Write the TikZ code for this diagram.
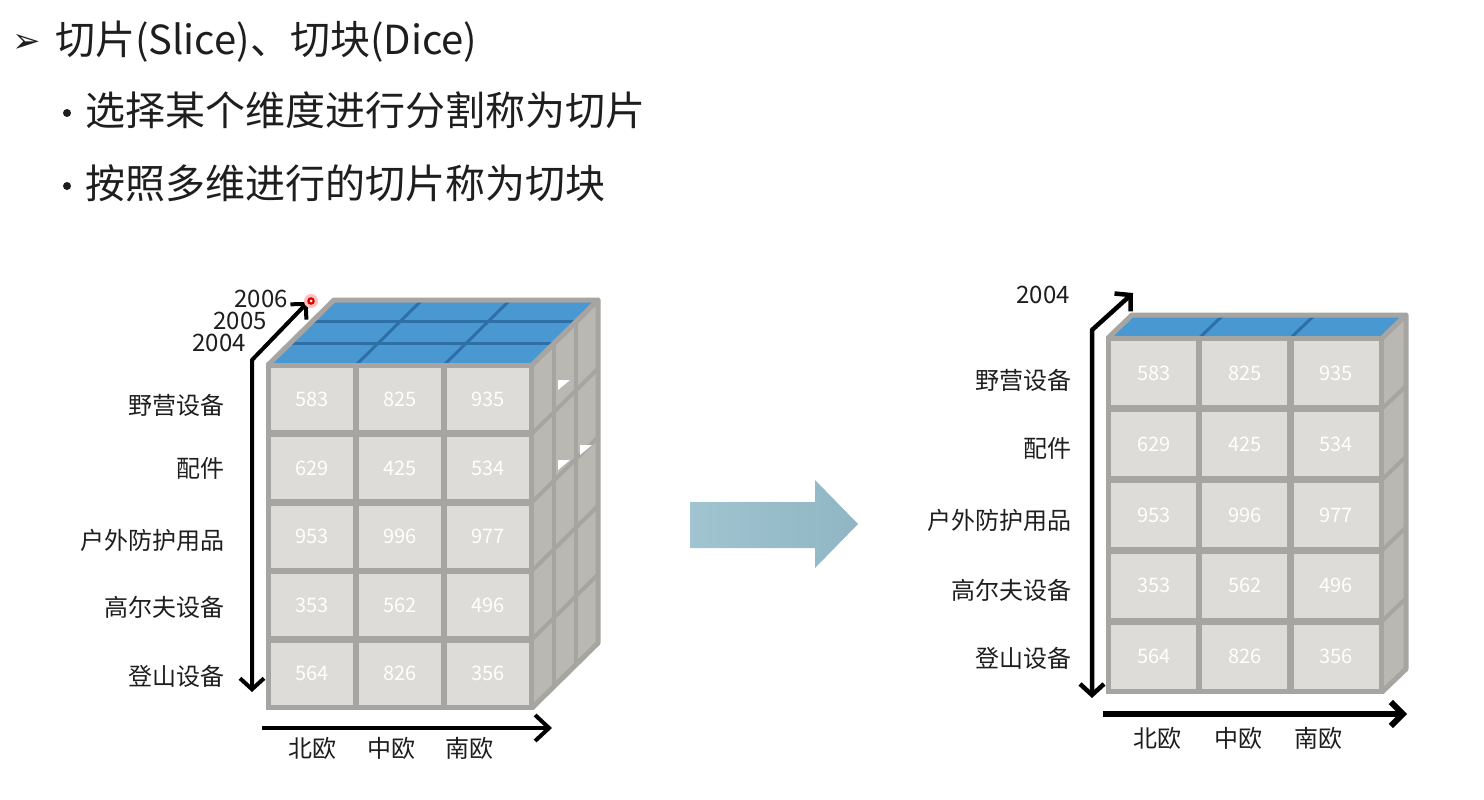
\documentclass[tikz,border=0pt]{standalone}
\usepackage{fontspec}
\setmainfont{Noto Sans CJK SC}
\newfontfamily\dejavu{DejaVu Sans}
\usetikzlibrary{arrows.meta}
\definecolor{framec}{HTML}{A6A5A1}
\definecolor{cellc}{HTML}{DDDCD9}
\definecolor{sidec}{HTML}{BAB8B3}
\definecolor{topc}{HTML}{4A98D2}
\definecolor{toplinec}{HTML}{2E6FA6}
\definecolor{arrowl}{HTML}{A0C4D0}
\definecolor{arrowr}{HTML}{90B6C4}
\definecolor{txt}{HTML}{1E1E1E}
\begin{document}
\begin{tikzpicture}[x=1pt,y=-1pt,
  cellL/.style={fill=cellc,minimum width=82pt,minimum height=62pt,inner sep=0pt,text=white,font=\fontsize{20}{20}\selectfont},
  cellR/.style={fill=cellc,minimum width=85pt,minimum height=64pt,inner sep=0pt,text=white,font=\fontsize{20}{20}\selectfont},
  lbl/.style={text=txt,inner sep=0pt,font=\fontsize{24}{24}\selectfont},
  axisline/.style={line width=4pt,black},
  gridline/.style={framec,line width=4pt},
  topline/.style={toplinec,line width=3pt},
  border/.style={framec,line width=5pt,line join=round},
  headtext/.style={anchor=west,inner sep=0pt,text=txt,font=\fontsize{40}{40}\selectfont},
  bulletdot/.style={circle,fill=txt,inner sep=0pt,minimum size=8pt}
]
\useasboundingbox (0,0) rectangle (1484,800);
\fill[white] (0,0) rectangle (1484,800);

% ---------- header text ----------
\node[anchor=center,inner sep=0pt,text=txt,font=\dejavu\fontsize{34}{34}\selectfont] (hb) at (27,43) {➢};
\node[headtext] (h1) at (55,42) {切片(Slice)、切块(Dice)};
\node[bulletdot] (b1) at (67,113) {};
\node[headtext] (t1) at (85,110) {选择某个维度进行分割称为切片};
\node[bulletdot] (b2) at (67,186) {};
\node[headtext] (t2) at (85,183) {按照多维进行的切片称为切块};

% ---------- left cube ----------
\fill[sidec] (532,365) -- (598,300) -- (598,643) -- (532,708) -- cycle;
\foreach \k in {1,2} \draw[gridline] ({532+22*\k},{365-21.7*\k}) -- ({532+22*\k},{708-21.7*\k});
\foreach \r in {1,2,3,4} \draw[gridline] (532,{365+68.6*\r}) -- (598,{365+68.6*\r-65});
\fill[white] (558,390) -- (570,380) -- (558,380) -- cycle;
\fill[white] (580,455) -- (592,445) -- (580,445) -- cycle;
\fill[white] (558,470) -- (570,460) -- (558,460) -- cycle;
\draw[border] (532,365) -- (598,300) -- (598,643) -- (532,708);
\fill[topc] (268,365) -- (532,365) -- (598,300) -- (334,300) -- cycle;
\foreach \k in {1,2} \draw[topline] ({268+22*\k},{365-21.7*\k}) -- ({532+22*\k},{365-21.7*\k});
\foreach \c in {1,2} \draw[topline] ({268+88*\c},365) -- ({268+88*\c+66},300);
\draw[border] (268,365) -- (334,300) -- (598,300) -- (532,365);
\fill[framec] (266,363) rectangle (534,710);
\foreach \v [count=\i from 0] in {583,825,935,629,425,534,953,996,977,353,562,496,564,826,356}{
  \pgfmathtruncatemacro\cc{mod(\i,3)}
  \pgfmathtruncatemacro\rr{div(\i,3)}
  \node[cellL] (L\i) at ({268+88*\cc+44},{365+68.6*\rr+34.3}) {\v};
}
\coordinate (LvB) at (252,692);
\coordinate (LvC) at (252,360);
\coordinate (LvT) at (308,302);
\draw[axisline,{Straight Barb[length=11pt,width=24pt]}-{Straight Barb[length=11pt,width=22pt]},line join=round] (LvB) -- (LvC) -- (LvT);
\coordinate (LhA) at (262,728);
\coordinate (LhB) at (552,728);
\draw[axisline,-{Straight Barb[length=14pt,width=26pt]}] (LhA) -- (LhB);
\fill[red!25] (311,301) circle (7);
\fill[red!85!black] (311,301) circle (3.8);
\fill[white] (311,301) circle (1.5);
\node[lbl,anchor=east] (y06) at (288,299) {2006};
\node[lbl,anchor=east] (y05) at (267,321) {2005};
\node[lbl,anchor=east] (y04) at (246,343) {2004};
\node[lbl,anchor=east] (r1) at (225,405) {野营设备};
\node[lbl,anchor=east] (r2) at (225,468) {配件};
\node[lbl,anchor=east] (r3) at (225,540) {户外防护用品};
\node[lbl,anchor=east] (r4) at (225,607) {高尔夫设备};
\node[lbl,anchor=east] (r5) at (225,676) {登山设备};
\node[lbl] (c1) at (312,748) {北欧};
\node[lbl] (c2) at (391,748) {中欧};
\node[lbl] (c3) at (469,748) {南欧};

% ---------- block arrow ----------
\shade[left color=arrowl,right color=arrowr] (690,502) -- (815,502) -- (815,480) -- (858,524) -- (815,568) -- (815,548) -- (690,548) -- cycle;

% ---------- right slice ----------
\fill[sidec] (1382,338) -- (1406,315) -- (1406,669) -- (1382,692) -- cycle;
\foreach \r in {1,2,3,4} \draw[gridline] (1382,{338+70.8*\r}) -- (1406,{338+70.8*\r-23});
\draw[border] (1382,338) -- (1406,315) -- (1406,669) -- (1382,692);
\fill[topc] (1108,338) -- (1382,338) -- (1406,315) -- (1132,315) -- cycle;
\foreach \c in {1,2} \draw[topline] ({1108+91.3*\c},338) -- ({1108+91.3*\c+24},315);
\draw[border] (1108,338) -- (1132,315) -- (1406,315) -- (1382,338);
\fill[framec] (1106,336) rectangle (1384,694);
\foreach \v [count=\i from 0] in {583,825,935,629,425,534,953,996,977,353,562,496,564,826,356}{
  \pgfmathtruncatemacro\cc{mod(\i,3)}
  \pgfmathtruncatemacro\rr{div(\i,3)}
  \node[cellR] (R\i) at ({1108+91.3*\cc+45.65},{338+70.8*\rr+35.4}) {\v};
}
\coordinate (RvB) at (1092,698);
\coordinate (RvC) at (1092,330);
\coordinate (RvT) at (1133,293);
\draw[axisline,line width=4.5pt,{Straight Barb[length=11pt,width=24pt]}-{Straight Barb[length=11pt,width=24pt]},line join=round] (RvB) -- (RvC) -- (RvT);
\coordinate (RhA) at (1103,714);
\coordinate (RhB) at (1407,714);
\draw[axisline,line width=6pt,-{Straight Barb[length=12pt,width=24pt]}] (RhA) -- (RhB);
\node[lbl,anchor=east] (ry04) at (1070,295) {2004};
\node[lbl,anchor=east] (s1) at (1072,380) {野营设备};
\node[lbl,anchor=east] (s2) at (1072,448) {配件};
\node[lbl,anchor=east] (s3) at (1072,520) {户外防护用品};
\node[lbl,anchor=east] (s4) at (1072,590) {高尔夫设备};
\node[lbl,anchor=east] (s5) at (1072,658) {登山设备};
\node[lbl] (d1) at (1157,738) {北欧};
\node[lbl] (d2) at (1238,738) {中欧};
\node[lbl] (d3) at (1318,738) {南欧};
\end{tikzpicture}
\end{document}
